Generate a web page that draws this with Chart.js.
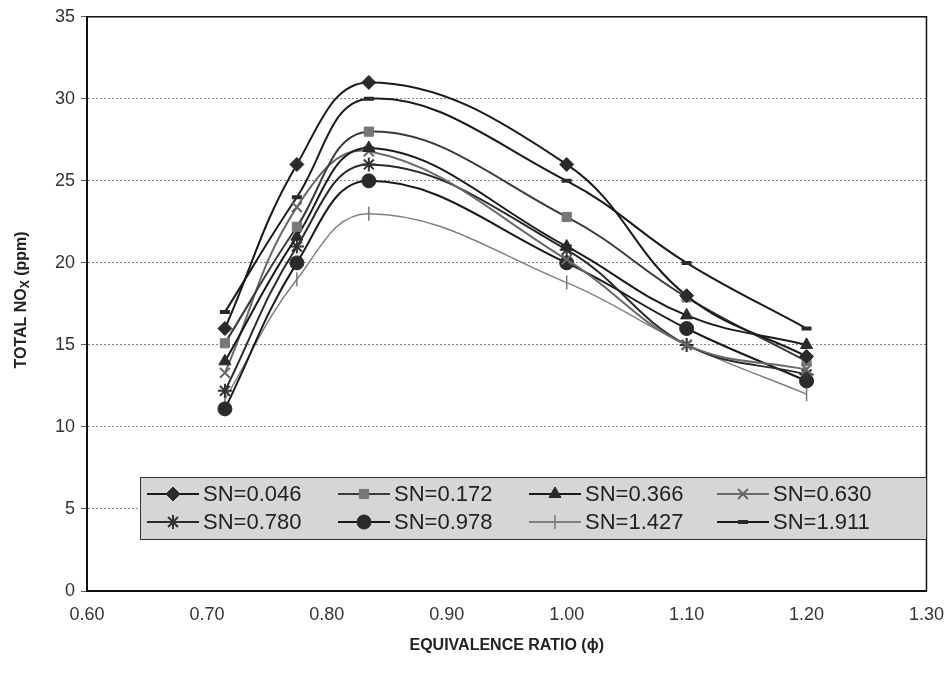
<!DOCTYPE html>
<html>
<head>
<meta charset="utf-8">
<script src="https://cdn.jsdelivr.net/npm/chart.js@4.4.1/dist/chart.umd.min.js"></script>
<style>
    body { margin: 0; background: #fff; }
    #wrap { width: 949px; height: 675px; position: relative; }
</style>
</head>
<body>
<div id="wrap"><canvas id="noxChart"></canvas></div>
<script>
// equivalence ratio (phi)
const phi = [0.715, 0.775, 0.835, 1.0, 1.1, 1.2];

// total NOx (ppm) per swirl number
const sn0046 = [16, 26, 31, 26, 18, 14.3];
const sn0172 = [15.1, 22.2, 28, 22.8, 17.9, 14];
const sn0366 = [14, 21.6, 27, 21, 16.8, 15];
const sn0630 = [13.3, 23.4, 26.8, 20.2, 15, 13.5];
const sn0780 = [12.2, 21, 26, 20.8, 15, 13.2];
const sn0978 = [11.1, 20, 25, 20, 16, 12.8];
const sn1427 = [11.7, 19, 23, 18.8, 15, 12];
const sn1911 = [17, 24, 30, 25, 20, 16];

const seriesNames = ['SN=0.046', 'SN=0.172', 'SN=0.366', 'SN=0.630',
                     'SN=0.780', 'SN=0.978', 'SN=1.427', 'SN=1.911'];
const yTicks = [0, 5, 10, 15, 20, 25, 30, 35];

const FONT = '"Liberation Sans", Arial, sans-serif';

function mk(name, vals, color, style, radius, fill, extra) {
    return Object.assign({
        label: name,
        data: vals.map((v, i) => ({ x: phi[i], y: v })),
        borderColor: color,
        backgroundColor: fill,
        borderWidth: 2,
        pointStyle: style,
        pointRadius: radius,
        pointBorderColor: fill,
        pointBackgroundColor: fill,
        pointBorderWidth: 1,
        tension: 0.4
    }, extra || {});
}

const datasets = [
    mk(seriesNames[0], sn0046, '#1a1a1a', 'rectRot', 7, '#2a2a2a'),
    mk(seriesNames[1], sn0172, '#3a3a3a', 'rect', 6.5, '#777'),
    mk(seriesNames[2], sn0366, '#1a1a1a', 'triangle', 7, '#2a2a2a'),
    mk(seriesNames[3], sn0630, '#6a6a6a', 'crossRot', 7, '#666', { pointBorderWidth: 2 }),
    mk(seriesNames[4], sn0780, '#2a2a2a', 'star', 7, '#333', { pointBorderWidth: 2 }),
    mk(seriesNames[5], sn0978, '#1a1a1a', 'circle', 7, '#2a2a2a'),
    mk(seriesNames[6], sn1427, '#808080', 'line', 7, '#777', { pointRotation: 90, borderWidth: 1.5, pointBorderWidth: 1.5 }),
    mk(seriesNames[7], sn1911, '#1a1a1a', 'line', 5, '#2a2a2a', { pointBorderWidth: 4 })
];

// frame round the plot area
const frame = {
    id: 'frame',
    beforeDatasetsDraw(chart) {
        const a = chart.chartArea, ctx = chart.ctx;
        ctx.save();
        ctx.strokeStyle = '#111';
        ctx.lineWidth = 1.5;
        ctx.strokeRect(a.left, a.top, a.right - a.left, a.bottom - a.top);
        ctx.restore();
    }
};

// legend box inside the plot + y title with subscript
const extras = {
    id: 'extras',
    afterDraw(chart) {
        const ctx = chart.ctx;
        ctx.save();
        // legend box
        const bx = 140, by = 477, bw = 786, bh = 62;
        ctx.fillStyle = '#d6d6d6';
        ctx.fillRect(bx, by, bw, bh);
        ctx.strokeStyle = '#333';
        ctx.lineWidth = 1;
        ctx.strokeRect(bx + 0.5, by + 0.5, bw, bh);
        const colX = [147, 338, 529, 717];
        const rowY = [494, 522];
        ctx.font = '22px ' + FONT;
        ctx.textBaseline = 'middle';
        chart.data.datasets.forEach((ds, i) => {
            const x = colX[i % 4], y = rowY[Math.floor(i / 4)];
            ctx.strokeStyle = ds.borderColor;
            ctx.lineWidth = 2;
            ctx.beginPath();
            ctx.moveTo(x, y);
            ctx.lineTo(x + 52, y);
            ctx.stroke();
            ctx.fillStyle = ds.pointBackgroundColor;
            ctx.strokeStyle = ds.pointBorderColor;
            ctx.lineWidth = ds.pointBorderWidth;
            Chart.helpers.drawPoint(ctx, {
                pointStyle: ds.pointStyle,
                rotation: ds.pointRotation || 0,
                radius: ds.pointRadius,
                borderWidth: ds.pointBorderWidth
            }, x + 26, y);
            ctx.fillStyle = '#222';
            ctx.textAlign = 'left';
            ctx.fillText(ds.label, x + 56, y + 1);
        });
        // y axis title
        ctx.translate(22, 300);
        ctx.rotate(-Math.PI / 2);
        ctx.fillStyle = '#222';
        ctx.textBaseline = 'middle';
        const p1 = 'TOTAL NO', p2 = 'X', p3 = ' (ppm)';
        ctx.font = 'bold 16px ' + FONT;
        const w1 = ctx.measureText(p1).width, w3 = ctx.measureText(p3).width;
        ctx.font = 'bold 12px ' + FONT;
        const w2 = ctx.measureText(p2).width;
        let sx = -(w1 + w2 + w3) / 2;
        ctx.font = 'bold 16px ' + FONT;
        ctx.textAlign = 'left';
        ctx.fillText(p1, sx, 0);
        ctx.font = 'bold 12px ' + FONT;
        ctx.fillText(p2, sx + w1, 4);
        ctx.font = 'bold 16px ' + FONT;
        ctx.fillText(p3, sx + w1 + w2, 0);
        ctx.restore();
    }
};

new Chart(document.getElementById('noxChart'), {
    type: 'line',
    data: { datasets: datasets },
    plugins: [frame, extras],
    options: {
        responsive: true,
        maintainAspectRatio: false,
        animation: false,
        layout: { padding: { top: 16, right: -15, left: 0, bottom: 16 } },
        plugins: {
            legend: { display: false },
            tooltip: { enabled: false }
        },
        scales: {
            x: {
                type: 'linear',
                min: 0.6,
                max: 1.3,
                border: { display: true, color: '#111', width: 2 },
                grid: { display: false, drawTicks: true },
                ticks: {
                    stepSize: 0.1,
                    color: '#333',
                    font: { family: FONT, size: 18 },
                    padding: 5,
                    callback: v => v.toFixed(2)
                },
                title: {
                    display: true,
                    text: 'EQUIVALENCE RATIO (\u03d5)',
                    color: '#222',
                    font: { family: FONT, size: 16, weight: 'bold' },
                    padding: { top: 6 }
                },
                afterFit(scale) { scale.height = 68; }
            },
            y: {
                min: 0,
                max: 35,
                border: { display: true, color: '#111', width: 2, dash: [2, 2] },
                grid: {
                    color: '#888',
                    lineWidth: 1,
                    tickLength: 6,
                    tickColor: '#555'
                },
                ticks: {
                    stepSize: 5,
                    color: '#333',
                    font: { family: FONT, size: 18 },
                    padding: 6,
                    callback: v => yTicks.includes(v) ? String(v) : ''
                },
                afterFit(scale) { scale.width = 87; }
            }
        }
    }
});
</script>
</body>
</html>
